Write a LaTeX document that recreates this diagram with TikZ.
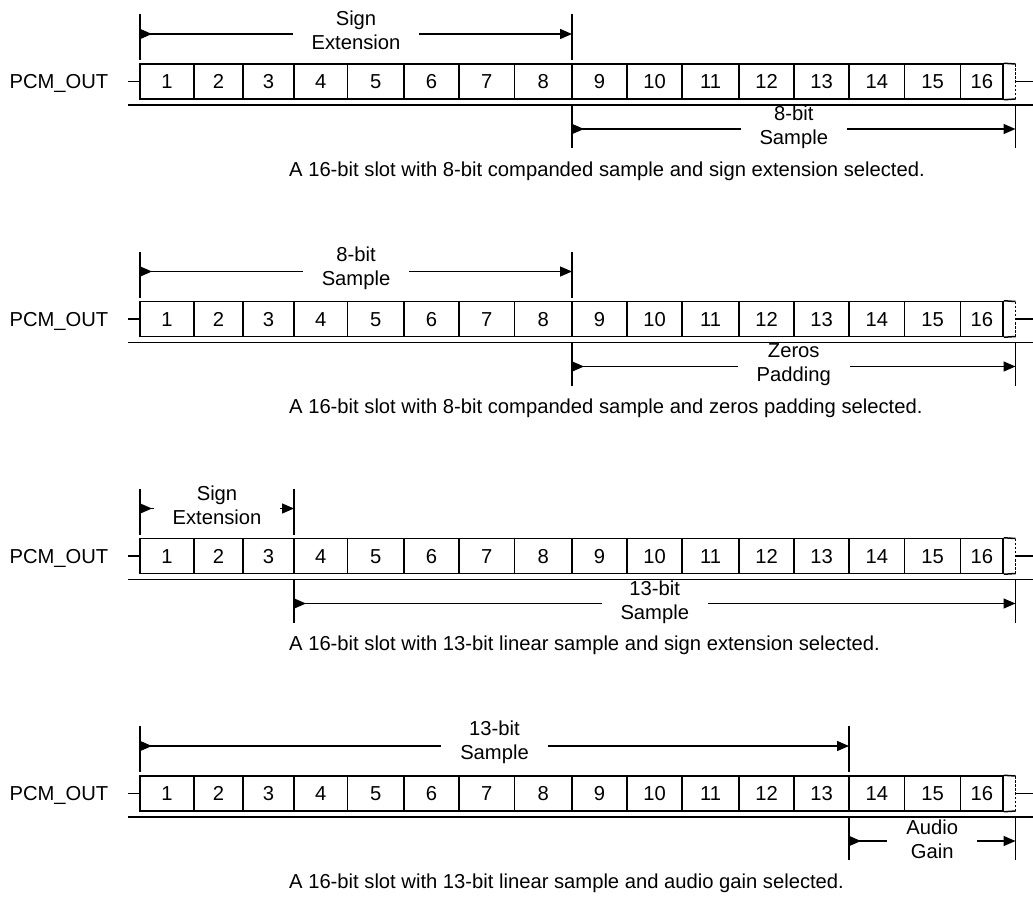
\documentclass[tikz,border=0pt]{standalone}
\usepackage{fontspec}
\setmainfont{Liberation Sans}
\usetikzlibrary{arrows.meta}
\newcommand\ftxt{\fontsize{20.2}{24}\selectfont}
\tikzset{
  cellbox/.style={draw, line width=1.5pt, minimum height=35pt, inner sep=0pt, font=\ftxt,
    text height=14.4pt, text depth=0pt},
  cellline/.style={line width=1.5pt},
  baseline2/.style={line width=1.9pt},
  stub/.style={line width=1.4pt},
  endtick/.style={line width=1.9pt, dash pattern=on 2.5pt off 1.6pt},
  extline/.style={line width=1.4pt},
  dimline/.style={line width=1.4pt,
    {Triangle[reversed,length=12pt,width=10pt]}-{Triangle[length=12pt,width=10pt]}},
  dimlabel/.style={font=\ftxt, align=center, fill=white, inner xsep=19pt, inner ysep=1pt},
  sigtext/.style={font=\ftxt, inner sep=0pt, anchor=east, text height=14.4pt, text depth=0pt},
  captext/.style={font=\ftxt, inner sep=0pt, anchor=west},
}
% slot row: #1 = top y, #2 = name prefix, #3 = caption
\newcommand\slotrow[3]{%
  \node[sigtext] (#2pcm) at (108.5,#1+17.5) {PCM\_OUT};
  \foreach \i/\a/\b in {1/140/194,2/194/243,3/243/294,4/294/347.5,5/347.5/404,
      6/404/459,7/459/514.5,8/514.5/572,9/572/627,10/627/682,11/682/739,
      12/739/794,13/794/849,14/849/904.5,15/904.5/960.5,16/960.5/1003}
    \node[cellbox, minimum width={\b-\a}] (#2c\i) at ({(\a+\b)/2},#1+17.5) {\i};
  \coordinate (#2ltop) at (1015.5,#1);
  \coordinate (#2lbot) at (1015.5,#1+35);
  \draw[cellline] (#2c16.north east) -- (#2ltop);
  \draw[cellline] (#2c16.south east) -- (#2lbot);
  \draw[endtick] (#2ltop) -- (#2lbot);
  \coordinate (#2in) at (128,#1+17.5);
  \coordinate (#2out) at (1033,#1+17.5);
  \draw[stub] (#2in) -- (#2c1.west);
  \draw[stub] (#2ltop |- #2out) -- (#2out);
  \coordinate (#2bl) at (128,#1+41);
  \coordinate (#2br) at (1033,#1+41);
  \draw[baseline2] (#2bl) -- (#2br);
  \node[captext] (#2cap) at (289,#1+107) {#3};
}
% dimension above: #1 = top y of row, #2 xa, #3 xb, #4 text, #5 name
\newcommand\dimtop[5]{%
  \coordinate (#5p) at (#2,#1-50);
  \coordinate (#5q) at (#2,#1-4);
  \coordinate (#5r) at (#3,#1-50);
  \coordinate (#5s) at (#3,#1-4);
  \draw[extline] (#5p) -- (#5q);
  \draw[extline] (#5r) -- (#5s);
  \coordinate (#5a) at (#2,#1-30);
  \coordinate (#5b) at (#3,#1-30);
  \draw[dimline] (#5a) -- (#5b);
  \node[dimlabel] (#5t) at ({(#2+#3)/2},#1-33.5) {#4};
}
% dimension below
\newcommand\dimbot[5]{%
  \coordinate (#5p) at (#2,#1+41);
  \coordinate (#5q) at (#2,#1+84);
  \coordinate (#5r) at (#3,#1+41);
  \coordinate (#5s) at (#3,#1+84);
  \draw[extline] (#5p) -- (#5q);
  \draw[extline] (#5r) -- (#5s);
  \coordinate (#5a) at (#2,#1+65);
  \coordinate (#5b) at (#3,#1+65);
  \draw[dimline] (#5a) -- (#5b);
  \node[dimlabel] (#5t) at ({(#2+#3)/2},#1+63.5) {#4};
}
\begin{document}
\begin{tikzpicture}[x=1pt,y=-1pt]
\useasboundingbox[fill=white] (0,0) rectangle (1033,900);
% row 1
\dimtop{64}{140}{572}{Sign\\Extension}{da}
\dimbot{64}{572}{1015.5}{8-bit\\Sample}{db}
\slotrow{64}{ra}{A 16-bit slot with 8-bit companded sample and sign extension selected.}
% row 2
\dimtop{301.5}{140}{572}{8-bit\\Sample}{dc}
\dimbot{301.5}{572}{1015.5}{Zeros\\Padding}{dd}
\slotrow{301.5}{rb}{A 16-bit slot with 8-bit companded sample and zeros padding selected.}
% row 3
\dimtop{538.5}{140}{294}{Sign\\Extension}{de}
\dimbot{538.5}{294}{1015.5}{13-bit\\Sample}{df}
\slotrow{538.5}{rc}{A 16-bit slot with 13-bit linear sample and sign extension selected.}
% row 4
\dimtop{776}{140}{849}{13-bit\\Sample}{dg}
\dimbot{776}{849}{1015.5}{Audio\\Gain}{dh}
\slotrow{776}{rd}{A 16-bit slot with 13-bit linear sample and audio gain selected.}
\end{tikzpicture}
\end{document}
